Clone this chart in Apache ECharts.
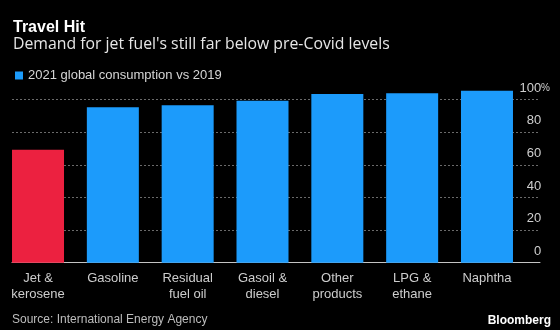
<!DOCTYPE html>
<html>
<head>
<meta charset="utf-8">
<script src="https://cdn.jsdelivr.net/npm/echarts@6/dist/echarts.min.js"></script>
<style>
  html, body { margin: 0; padding: 0; background: #000; }
  #chart { width: 560px; height: 330px; }
</style>
</head>
<body>
<div id="chart"></div>
<script>
// Oil product demand in 2021 as a share of 2019 levels
const categories = ['Jet &\nkerosene', 'Gasoline', 'Residual\nfuel oil', 'Gasoil &\ndiesel', 'Other\nproducts', 'LPG &\nethane', 'Naphtha'];
const consumptionVs2019 = [69.3, 95.3, 96.6, 99.4, 103.5, 103.9, 105.5];
const highlighted = ['Jet &\nkerosene'];
const yTicks = [0, 20, 40, 60, 80, 100];

const BLUE = '#1c9bfb';
const RED = '#ec2140';
const FONT = '"Liberation Sans", Arial, sans-serif';
const FONT_WIDE = '"Open Sans", "Liberation Sans", sans-serif';

const barData = consumptionVs2019.map((v, i) => ({
  value: v,
  itemStyle: { color: highlighted.includes(categories[i]) ? RED : BLUE }
}));

const chart = echarts.init(document.getElementById('chart'), null, { renderer: 'canvas' });
chart.setOption({
  backgroundColor: '#000',
  animation: false,
  textStyle: { fontFamily: FONT },
  title: [
    {
      text: 'Travel Hit',
      left: 13, top: 20, padding: 0,
      textStyle: { color: '#fff', fontSize: 16, fontWeight: 'bold', fontFamily: FONT }
    },
    {
      text: "Demand for jet fuel's still far below pre-Covid levels",
      left: 13, top: 36, padding: 0,
      textStyle: { color: '#e6e6e6', fontSize: 15.8, fontWeight: 'normal', fontFamily: FONT_WIDE }
    },
    {
      text: 'Source: International Energy Agency',
      left: 12, top: 314, padding: 0,
      textStyle: { color: '#bdbdbd', fontSize: 12, fontWeight: 'normal', fontFamily: FONT }
    },
    {
      text: 'Bloomberg',
      right: 9, top: 315, padding: 0,
      textStyle: { color: '#fff', fontSize: 12, fontWeight: 'bold', fontFamily: FONT }
    }
  ],
  legend: {
    left: 10, top: 64,
    icon: 'rect',
    itemWidth: 8, itemHeight: 8, itemGap: 6,
    textStyle: { color: '#d6d6d6', fontSize: 13, fontFamily: FONT },
    data: ['2021 global consumption vs 2019']
  },
  grid: [
    // bars
    { left: 0.6, width: 523.8, top: 99.7, height: 163, containLabel: false },
    // value axis, gridlines and baseline
    { left: 12, width: 528, top: 99.7, height: 163, containLabel: false }
  ],
  xAxis: [
    {
      gridIndex: 0,
      type: 'category',
      data: categories,
      axisLine: { show: false },
      axisTick: { show: false },
      axisLabel: {
        color: '#cdcdcd', fontSize: 13, lineHeight: 16, margin: 8,
        fontFamily: FONT, interval: 0
      }
    },
    {
      gridIndex: 1,
      type: 'value',
      min: 0, max: 1,
      axisLine: { show: true, lineStyle: { color: '#c4c4c4', width: 1 } },
      axisTick: { show: false },
      axisLabel: { show: false },
      splitLine: { show: false }
    }
  ],
  yAxis: [
    {
      gridIndex: 0,
      type: 'value',
      min: 0, max: 100,
      show: false
    },
    {
      gridIndex: 1,
      type: 'value',
      position: 'right',
      min: yTicks[0], max: yTicks[yTicks.length - 1], interval: 20,
      axisLine: { show: false },
      axisTick: { show: false },
      splitLine: { show: true, lineStyle: { color: '#6a6a6a', type: [2, 2], width: 1 } },
      axisLabel: {
        inside: true,
        margin: -10,
        color: '#cfcfcf',
        fontSize: 13,
        fontFamily: FONT,
        verticalAlign: 'bottom',
        padding: [0, 0, 5, 0],
        // only the top tick shows its percent sign; the others keep the same
        // right-hand space so the digits line up
        formatter: v => v === 100 ? '100{p|%}' : v + '{h|%}',
        rich: {
          p: { color: '#cfcfcf', fontSize: 10, fontFamily: FONT },
          h: { color: 'rgba(0,0,0,0)', fontSize: 10, fontFamily: FONT }
        }
      }
    }
  ],
  series: [
    {
      name: '2021 global consumption vs 2019',
      type: 'bar',
      xAxisIndex: 0, yAxisIndex: 0,
      data: barData,
      barWidth: 52,
      clip: false,
      itemStyle: { color: BLUE }
    }
  ]
});
</script>
</body>
</html>
